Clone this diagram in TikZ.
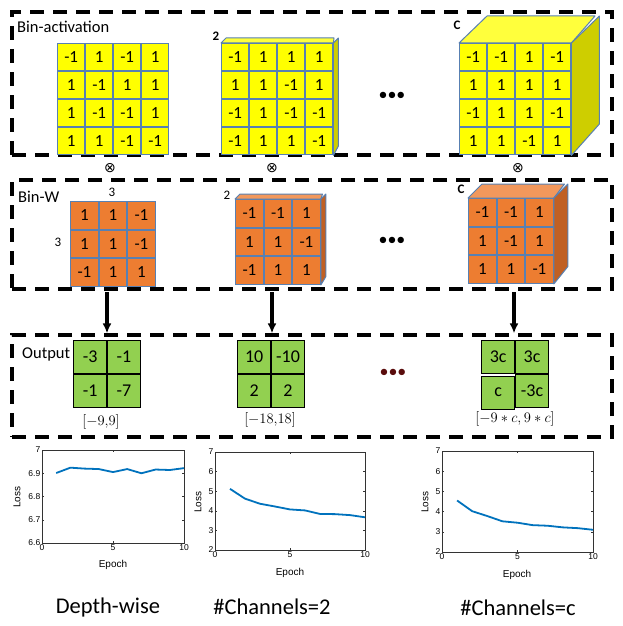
\RequirePackage{fix-cm}
\documentclass[tikz,border=0pt]{standalone}
\usepackage{fontspec}
\setmainfont{Carlito}
\newfontfamily\plotfont{Liberation Sans}
\newfontfamily\symfont{DejaVu Sans}
\usetikzlibrary{matrix, arrows, arrows.meta}
\definecolor{gridblue}{RGB}{88,128,178}
\definecolor{binyellow}{RGB}{255,255,0}
\definecolor{yellowtop}{RGB}{255,255,60}
\definecolor{yellowside}{RGB}{206,206,0}
\definecolor{binorange}{RGB}{237,125,49}
\definecolor{orangetop}{RGB}{242,152,92}
\definecolor{orangeside}{RGB}{192,96,36}
\definecolor{outgreen}{RGB}{146,208,80}
\definecolor{lossblue}{RGB}{0,114,189}
\definecolor{dotred}{RGB}{90,12,12}
\tikzstyle{groupbox} = [draw=black, line width=3.2pt, dash pattern=on 14pt off 9pt, minimum width=600pt]
\tikzstyle{boxlabel} = [anchor=base west, inner sep=0pt, font=\fontsize{16.5}{16.5}\selectfont]
\tikzstyle{sizelabel} = [inner sep=0pt, font=\fontsize{13}{13}\selectfont]
\tikzstyle{cellgrid} = [draw=gridblue, line width=1pt, outer sep=0pt, inner sep=0pt, text centered, font=\fontsize{17}{17}\selectfont]
\tikzstyle{actmat} = [matrix of nodes, inner sep=0pt, anchor=north west, nodes={cellgrid, fill=binyellow, minimum size=27pt}]
\tikzstyle{wmat} = [matrix of nodes, inner sep=0pt, anchor=north west, nodes={cellgrid, fill=binorange, minimum size=27.5pt}]
\tikzstyle{outmat} = [matrix of nodes, inner sep=0pt, anchor=north west, nodes={cellgrid, draw=black, line width=0.9pt, fill=outgreen, minimum size=33pt, font=\fontsize{18}{18}\selectfont}]
\tikzstyle{face} = [draw=gridblue, line width=1pt, line join=round]
\tikzstyle{dots} = [inner sep=0pt, font=\fontsize{18}{18}\selectfont]
\tikzstyle{prod} = [inner sep=0pt, font=\symfont\fontsize{14}{14}\selectfont]
\tikzstyle{rangelabel} = [inner sep=0pt, font=\fontsize{14.5}{14.5}\selectfont]
\tikzstyle{arrow} = [line width=3.2pt,-{Latex[length=10pt,width=9pt]}]
\tikzstyle{plotframe} = [draw=black!80, line width=0.5pt]
\tikzstyle{ticklabel} = [inner sep=1.5pt, font=\plotfont\fontsize{8.5}{8.5}\selectfont]
\tikzstyle{axislabel} = [inner sep=0pt, font=\plotfont\fontsize{10}{10}\selectfont]
\tikzstyle{lossline} = [draw=lossblue, line width=1.8pt, line join=round]
\tikzstyle{caption} = [inner sep=0pt, font=\fontsize{22.5}{22.5}\selectfont]

\begin{document}
\begin{tikzpicture}[x=1pt, y=-1pt]
\useasboundingbox (0,0) rectangle (622,626);
\fill[white] (0,0) rectangle (622,626);

% dashed group boxes
\node[groupbox, minimum height=143pt] (actbox) at (312,83.5) {};
\node[groupbox, minimum height=109pt] (wbox) at (312,234.5) {};
\node[groupbox, minimum height=102pt] (outbox) at (312,386) {};
\node[boxlabel] (actlabel) at (17,33) {Bin-activation};
\node[boxlabel] (wlabel) at (18,202) {Bin-W};
\node[boxlabel] (outlabel) at (22,358) {Output};

% binary activations
\matrix[actmat] (act1) at (57,43) {
-1 & 1 & -1 & 1 \\
1 & -1 & 1 & 1 \\
1 & -1 & -1 & 1 \\
1 & 1 & -1 & -1 \\
};
\matrix[actmat] (act2) at (221,43) {
-1 & 1 & 1 & 1 \\
1 & 1 & -1 & 1 \\
-1 & 1 & -1 & -1 \\
-1 & 1 & 1 & -1 \\
};
\draw[face, fill=yellowtop] (act2.north west) -- ++(5,-5) -- ++(108,0) -- (act2.north east) -- cycle;
\draw[face, fill=yellowside] (act2.north east) -- ++(5,-5) -- ++(0,108) -- (act2.south east) -- cycle;
\matrix[actmat] (actc) at (459,43) {
-1 & -1 & 1 & -1 \\
1 & 1 & 1 & 1 \\
-1 & 1 & 1 & -1 \\
1 & 1 & -1 & 1 \\
};
\draw[face, fill=yellowtop] (actc.north west) -- ++(28,-27) -- ++(108,0) -- (actc.north east) -- cycle;
\draw[face, fill=yellowside] (actc.north east) -- ++(28,-27) -- ++(0,108) -- (actc.south east) -- cycle;
\node[sizelabel, font=\bfseries\fontsize{13}{13}\selectfont] (act2depth) at (216,36) {2};
\node[sizelabel, font=\bfseries\fontsize{13}{13}\selectfont] (actcdepth) at (457,25) {C};
\node[dots] (actdots) at (392,96) {•••};

% products
\node[prod] (prod1) at (110,168) {⊗};
\node[prod] (prod2) at (272,168) {⊗};
\node[prod] (prodc) at (518,168) {⊗};

% binary weights
\matrix[wmat] (w1) at (70,201) {
1 & 1 & -1 \\
1 & 1 & -1 \\
-1 & 1 & 1 \\
};
\matrix[wmat] (w2) at (235,199) {
-1 & -1 & 1 \\
1 & 1 & -1 \\
-1 & 1 & 1 \\
};
\draw[face, fill=orangetop] (w2.north west) -- ++(5,-5) -- ++(82.5,0) -- (w2.north east) -- cycle;
\draw[face, fill=orangeside] (w2.north east) -- ++(5,-5) -- ++(0,82.5) -- (w2.south east) -- cycle;
\matrix[wmat] (wc) at (468,198) {
-1 & -1 & 1 \\
1 & -1 & 1 \\
1 & 1 & -1 \\
};
\draw[face, fill=orangetop] (wc.north west) -- ++(14,-14) -- ++(82.5,0) -- (wc.north east) -- cycle;
\draw[face, fill=orangeside] (wc.north east) -- ++(14,-14) -- ++(0,82.5) -- (wc.south east) -- cycle;
\node[sizelabel] (w1width) at (112,192) {3};
\node[sizelabel] (w1height) at (58,242) {3};
\node[sizelabel] (w2depth) at (227,195) {2};
\node[sizelabel, font=\bfseries\fontsize{13}{13}\selectfont] (wcdepth) at (461,189) {C};
\node[dots] (wdots) at (392,241) {•••};

% arrows down to the outputs
\coordinate (arr1) at (107,292);
\coordinate (arr2) at (272,292);
\coordinate (arrc) at (514,292);
\draw[arrow] (arr1) -- (arr1 |- outbox.north);
\draw[arrow] (arr2) -- (arr2 |- outbox.north);
\draw[arrow] (arrc) -- (arrc |- outbox.north);

% outputs
\matrix[outmat] (out1) at (73,340) {
-3 & -1 \\
-1 & -7 \\
};
\matrix[outmat] (out2) at (237,340) {
10 & -10 \\
2 & 2 \\
};
\matrix[outmat] (outc) at (481,340) {
3c & 3c \\
c & -3c \\
};
\node[dots, text=dotred] (outdots) at (393,373) {•••};
\node[rangelabel] (range1) at (101,422) {$[-9{,}9]$};
\node[rangelabel] (range2) at (270,420) {$[-18{,}18]$};
\node[rangelabel] (rangec) at (515,419) {$[-9\ast c,9\ast c]$};

% loss curves
\begin{scope}[x=14.2pt, y=232.5pt, shift={(42pt,-2077.5pt)}]
\draw[plotframe] (0,6.6) rectangle (10,7);
\foreach \t [count=\i] in {0,5,10} {
  \draw[plotframe] (\t,6.6) -- ++(0,2pt) (\t,7) -- ++(0,-2pt);
  \node[ticklabel, below] (dwx\i) at (\t,6.6) {\t};
}
\foreach \v [count=\i] in {6.6,6.7,6.8,6.9,7} {
  \draw[plotframe] (0,\v) -- ++(2pt,0) (10,\v) -- ++(-2pt,0);
  \node[ticklabel, left] (dwy\i) at (0,\v) {\v};
}
\draw[lossline] plot coordinates {(1,6.901) (2,6.924) (3,6.920) (4,6.918) (5,6.905) (6,6.918) (7,6.900) (8,6.916) (9,6.914) (10,6.922)};
\end{scope}
\node[axislabel] (dwepoch) at (113,565) {Epoch};
\node[axislabel, rotate=90] (dwloss) at (17,497) {Loss};

\begin{scope}[x=15pt, y=19.6pt, shift={(215pt,-589.2pt)}]
\draw[plotframe] (0,2) rectangle (10,7);
\foreach \t [count=\i] in {0,5,10} {
  \draw[plotframe] (\t,2) -- ++(0,2pt) (\t,7) -- ++(0,-2pt);
  \node[ticklabel, below] (twox\i) at (\t,2) {\t};
}
\foreach \v [count=\i] in {2,...,7} {
  \draw[plotframe] (0,\v) -- ++(2pt,0) (10,\v) -- ++(-2pt,0);
  \node[ticklabel, left] (twoy\i) at (0,\v) {\v};
}
\draw[lossline] plot coordinates {(1,5.12) (2,4.62) (3,4.36) (4,4.22) (5,4.07) (6,4.02) (7,3.84) (8,3.83) (9,3.78) (10,3.67)};
\end{scope}
\node[axislabel] (twoepoch) at (290,573) {Epoch};
\node[axislabel, rotate=90] (twoloss) at (198,502) {Loss};

\begin{scope}[x=15.1pt, y=20.2pt, shift={(442pt,-592.4pt)}]
\draw[plotframe] (0,2) rectangle (10,7);
\foreach \t [count=\i] in {0,5,10} {
  \draw[plotframe] (\t,2) -- ++(0,2pt) (\t,7) -- ++(0,-2pt);
  \node[ticklabel, below] (cx\i) at (\t,2) {\t};
}
\foreach \v [count=\i] in {2,...,7} {
  \draw[plotframe] (0,\v) -- ++(2pt,0) (10,\v) -- ++(-2pt,0);
  \node[ticklabel, left] (cy\i) at (0,\v) {\v};
}
\draw[lossline] plot coordinates {(1,4.55) (2,4.02) (3,3.78) (4,3.52) (5,3.45) (6,3.33) (7,3.30) (8,3.22) (9,3.18) (10,3.10)};
\end{scope}
\node[axislabel] (cepoch) at (517,575) {Epoch};
\node[axislabel, rotate=90] (closs) at (425,502) {Loss};

% captions
\node[caption] (capdw) at (108,607) {Depth-wise};
\node[caption] (captwo) at (272,607) {\#Channels=2};
\node[caption] (capc) at (518,608) {\#Channels=c};
\end{tikzpicture}
\end{document}
